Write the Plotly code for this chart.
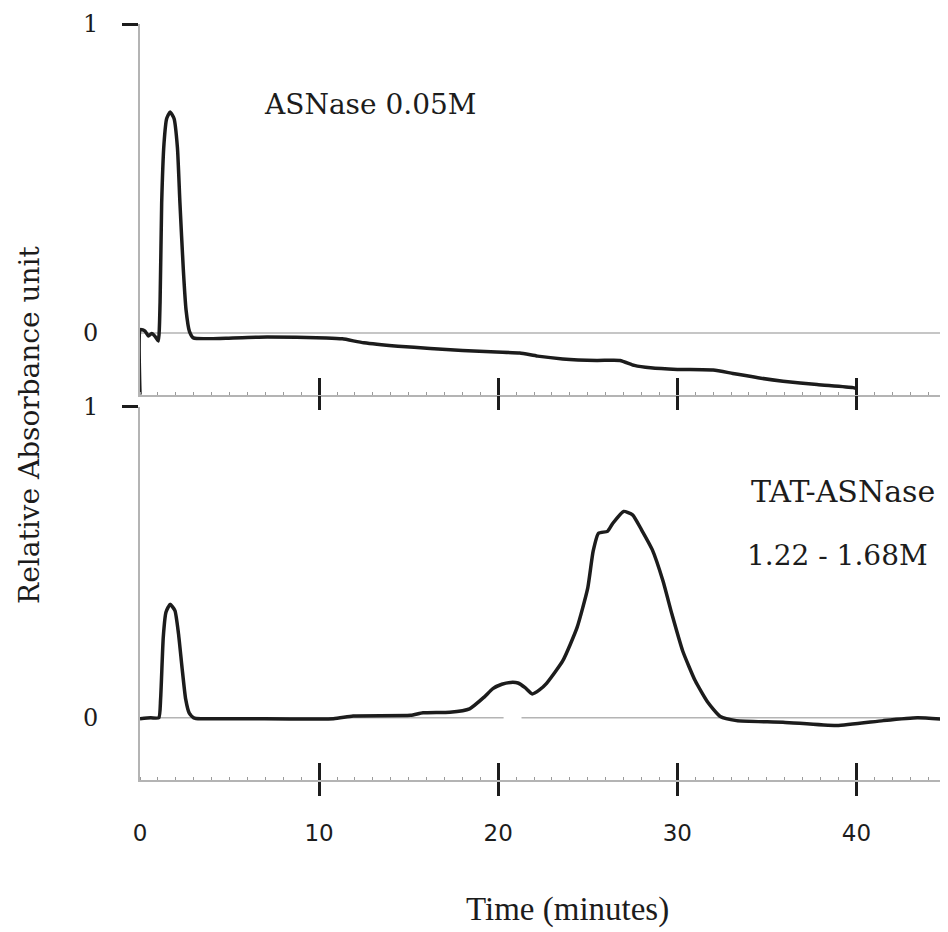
import plotly.graph_objects as go

# ---------------- data ----------------
X_MAX = 45
Y_MIN = -0.2
Y_MAX = 1.0

time_asnase = [0.0, 0.03, 0.28, 0.47, 0.65, 0.84, 1.02, 1.12, 1.21, 1.34, 1.49, 1.68, 1.9,
               2.09, 2.23, 2.42, 2.57, 2.76, 2.98, 5.2, 7.1, 10.4, 11.3, 12.5, 14.4, 16.2,
               18.0, 19.9, 21.2, 22.2, 23.6, 25.5, 26.8, 27.6, 28.5, 30.0, 32.0, 33.1, 34.5,
               35.9, 37.8, 39.8, 40.0]
abs_asnase = [-0.2, 0.011, 0.006, -0.01, -0.002, -0.011, -0.026, 0.097, 0.42, 0.613, 0.694,
              0.715, 0.694, 0.60, 0.42, 0.204, 0.075, 0.005, -0.016, -0.016, -0.013, -0.016,
              -0.019, -0.032, -0.043, -0.05, -0.057, -0.062, -0.065, -0.075, -0.084, -0.089,
              -0.089, -0.105, -0.113, -0.118, -0.12, -0.131, -0.145, -0.156, -0.167, -0.177,
              -0.18]

time_tat = [0.0, 0.6, 1.05, 1.15, 1.3, 1.45, 1.68, 1.95, 2.15, 2.35, 2.55, 2.75, 3.0, 3.4,
            6.0, 10.8, 11.9, 15.1, 15.8, 17.3, 18.4, 19.2, 19.7, 20.2, 20.7, 21.1, 21.5,
            21.9, 22.3, 22.7, 23.6, 24.4, 25.0, 25.3, 25.6, 26.1, 26.4, 27.0, 27.5, 28.0,
            28.6, 29.2, 29.7, 30.3, 31.0, 31.7, 32.4, 33.3, 35.9, 38.9, 41.5, 43.4, 45.0]
abs_tat = [-0.003, 0.0, 0.0, 0.06, 0.26, 0.34, 0.365, 0.345, 0.27, 0.16, 0.06, 0.015, 0.0,
           -0.003, -0.003, -0.003, 0.006, 0.008, 0.016, 0.018, 0.029, 0.066, 0.094, 0.108,
           0.114, 0.112, 0.097, 0.077, 0.09, 0.111, 0.183, 0.29, 0.418, 0.536, 0.594, 0.60,
           0.626, 0.664, 0.653, 0.605, 0.541, 0.44, 0.333, 0.215, 0.119, 0.05, 0.004,
           -0.009, -0.014, -0.025, -0.009, 0.0, -0.005]

zero_gap = [20.3, 21.3]          # gap in the lower baseline
x_ticks = [10, 20, 30, 40]
x_labels = [0, 10, 20, 30, 40]
y_labels = [0, 1]

label_top = "ASNase 0.05M"
label_bot_1 = "TAT-ASNase"
label_bot_2 = "1.22 - 1.68M"
y_title = "Relative Absorbance unit"
x_title = "Time (minutes)"

# ---------------- styles ----------------
INK = "#1c1c1c"
GRAY = "#b4b4b4"
SERIF = "DejaVu Serif"

fig = go.Figure()

# baselines + right edge (gray)
fig.add_trace(go.Scatter(x=[0, X_MAX, X_MAX], y=[0, 0, Y_MIN], mode="lines",
                         line=dict(color=GRAY, width=1.5), xaxis="x", yaxis="y",
                         hoverinfo="skip", showlegend=False))
fig.add_trace(go.Scatter(x=[0, zero_gap[0], None, zero_gap[1], X_MAX, X_MAX],
                         y=[0, 0, None, 0, 0, Y_MIN], mode="lines",
                         line=dict(color=GRAY, width=1.5), xaxis="x2", yaxis="y2",
                         hoverinfo="skip", showlegend=False))

# chromatograms
fig.add_trace(go.Scatter(x=time_asnase, y=abs_asnase, mode="lines",
                         line=dict(color=INK, width=3.5, shape="spline", smoothing=0.5),
                         xaxis="x", yaxis="y", showlegend=False, name="ASNase"))
fig.add_trace(go.Scatter(x=time_tat, y=abs_tat, mode="lines",
                         line=dict(color=INK, width=3.5, shape="spline", smoothing=0.5),
                         xaxis="x2", yaxis="y2", showlegend=False, name="TAT-ASNase"))

# empty traces so the overlay (tick / label) axes get drawn
for xa, ya in [("x3", "y"), ("x", "y3"), ("x", "y5"),
               ("x4", "y2"), ("x5", "y2"), ("x2", "y4"), ("x2", "y6")]:
    fig.add_trace(go.Scatter(x=[None], y=[None], mode="lines", xaxis=xa, yaxis=ya,
                             showlegend=False, hoverinfo="skip"))

TOP_DOM = [0.5096, 1.0]
BOT_DOM = [0.0, 0.4934]

minor = dict(ticks="inside", ticklen=3, tickwidth=1, tickcolor="#9a9a9a", dtick=1, showgrid=False)

base_x = dict(range=[0, X_MAX], showline=True, linecolor=GRAY, linewidth=1.5,
              ticks="outside", tickvals=x_ticks, ticklen=14, tickwidth=2.5, tickcolor=INK,
              showticklabels=False, showgrid=False, zeroline=False, minor=minor)
over_x = dict(range=[0, X_MAX], showline=False, ticks="inside", tickvals=x_ticks,
              ticklen=17, tickwidth=2.5, tickcolor=INK, showticklabels=False,
              showgrid=False, zeroline=False)
base_y = dict(range=[Y_MIN, Y_MAX], showline=True, linecolor=GRAY, linewidth=1.5,
              ticks="outside", tickvals=[1], ticklen=16, tickwidth=2.5, tickcolor=INK,
              showticklabels=False, showgrid=False, zeroline=False)
over_y = dict(range=[Y_MIN, Y_MAX], showline=False, ticks="inside", tickvals=[1],
              ticklen=17, tickwidth=2.5, tickcolor=INK, showticklabels=False,
              showgrid=False, zeroline=False)
lab_y = dict(range=[Y_MIN, Y_MAX], showline=False, ticks="outside", tickvals=y_labels,
             ticktext=[str(v) for v in y_labels], ticklen=36, tickcolor="rgba(0,0,0,0)",
             tickfont=dict(family=SERIF, size=24, color=INK), showgrid=False, zeroline=False)

# page body has an 8px margin -> figure is 940x924 placed at (8, 8)
fig.update_layout(
    width=940, height=924,
    margin=dict(l=132, r=2, t=12, b=152),
    paper_bgcolor="white", plot_bgcolor="white",
    xaxis=dict(**base_x, domain=[0, 1], anchor="y"),
    yaxis=dict(**base_y, domain=TOP_DOM, anchor="x"),
    xaxis2=dict(**base_x, domain=[0, 1], anchor="y2"),
    yaxis2=dict(**base_y, domain=BOT_DOM, anchor="x2"),
    xaxis3=dict(**over_x, overlaying="x", anchor="y"),
    yaxis3=dict(**over_y, overlaying="y", anchor="x"),
    xaxis4=dict(**over_x, overlaying="x2", anchor="y2"),
    yaxis4=dict(**over_y, overlaying="y2", anchor="x2"),
    xaxis5=dict(range=[0, X_MAX], overlaying="x2", anchor="y2", showline=False,
                ticks="outside", tickvals=x_labels, ticktext=[str(v) for v in x_labels],
                ticklen=32, tickcolor="rgba(0,0,0,0)",
                tickfont=dict(family="DejaVu Sans", size=23, color=INK),
                showgrid=False, zeroline=False),
    yaxis5=dict(**lab_y, overlaying="y", anchor="x"),
    yaxis6=dict(**lab_y, overlaying="y2", anchor="x2"),
    annotations=[
        dict(text=label_top, x=6.8, y=0.739, xref="x", yref="y", xanchor="left",
             yanchor="middle", showarrow=False, font=dict(family=SERIF, size=28, color=INK)),
        dict(text=label_bot_1, x=34.0, y=0.728, xref="x2", yref="y2", xanchor="left",
             yanchor="middle", showarrow=False, font=dict(family=SERIF, size=30, color=INK)),
        dict(text=label_bot_2, x=33.8, y=0.523, xref="x2", yref="y2", xanchor="left",
             yanchor="middle", showarrow=False, font=dict(family=SERIF, size=28, color=INK)),
        dict(text=y_title, x=-0.1365, y=0.4697, xref="paper", yref="paper",
             xanchor="center", yanchor="middle", textangle=-90, showarrow=False,
             font=dict(family=SERIF, size=28, color=INK)),
        dict(text=x_title, x=0.531, y=-0.171, xref="paper", yref="paper",
             xanchor="center", yanchor="middle", showarrow=False,
             font=dict(family="Liberation Serif", size=33, color=INK)),
    ],
)

fig.write_html("out.html")
